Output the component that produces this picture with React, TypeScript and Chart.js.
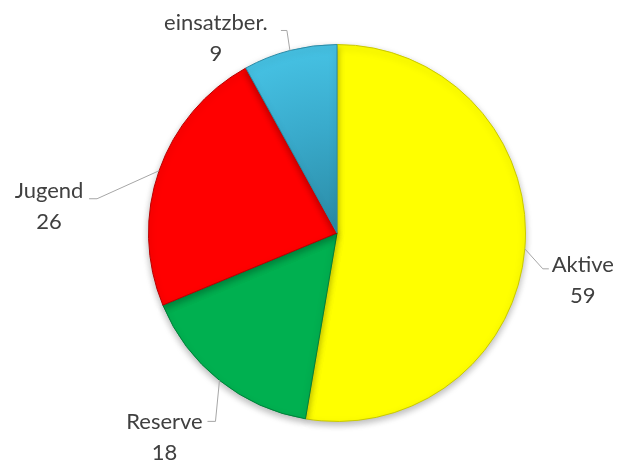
import React, { useEffect, useRef } from "react";
import { Chart, registerables } from "chart.js";

Chart.register(...registerables);

const categories = ["Aktive", "Reserve", "Jugend", "einsatzber."];
const values = [59, 18, 26, 9];

const sliceColors = ["#FFFF00", "#00B050", "#FF0000", "#41BCDF"];
const borderColors = ["#C9C900", "#00803A", "#B80000", "#2C8BA6"];

// label placement relative to the slice's outer mid-point (style only)
const labelLayout = [
  { tx: 58, ty: 23, ex: 18, ey: 20, h: 6 },
  { tx: -55, ty: 49, ex: -4, ey: 41, h: -8 },
  { tx: -110, ty: 27, ex: -62, ey: 28, h: -8 },
  { tx: -74, ty: -20, ex: -3, ey: -20, h: -6 },
];

const labelPlugin = {
  id: "outLabels",
  beforeDatasetsDraw(chart: any) {
    const ctx = chart.ctx;
    ctx.save();
    ctx.shadowColor = "rgba(0,0,0,0.28)";
    ctx.shadowBlur = 7;
    ctx.shadowOffsetY = 3;
  },
  afterDatasetsDraw(chart: any) {
    chart.ctx.restore();
  },
  afterDraw(chart: any) {
    const ctx = chart.ctx;
    const meta = chart.getDatasetMeta(0);
    ctx.save();
    meta.data.forEach((arc: any, i: number) => {
      const p = arc.getProps(["x", "y", "startAngle", "endAngle", "outerRadius"], true);
      const mid = (p.startAngle + p.endAngle) / 2;
      const ax = p.x + Math.cos(mid) * p.outerRadius;
      const ay = p.y + Math.sin(mid) * p.outerRadius;
      const L = labelLayout[i];
      ctx.strokeStyle = "#A6A6A6";
      ctx.lineWidth = 1;
      ctx.beginPath();
      ctx.moveTo(ax, ay);
      ctx.lineTo(ax + L.ex, ay + L.ey);
      ctx.lineTo(ax + L.ex + L.h, ay + L.ey);
      ctx.stroke();
      ctx.fillStyle = "#404040";
      ctx.font = "22px Lato";
      ctx.textAlign = "center";
      ctx.textBaseline = "alphabetic";
      ctx.fillText(categories[i], ax + L.tx, ay + L.ty);
      ctx.fillText(String(values[i]), ax + L.tx, ay + L.ty + 31);
    });
    ctx.restore();
  },
};

export default function App() {
  const ref = useRef<HTMLCanvasElement>(null);
  useEffect(() => {
    if (!ref.current) return;
    const chart = new Chart(ref.current, {
      type: "pie",
      data: {
        labels: categories,
        datasets: [
          {
            data: values,
            backgroundColor: (c: any) => {
              const i = c.dataIndex;
              const ch = c.chart;
              const area = ch.chartArea;
              if (!area || i !== 3) return sliceColors[i];
              const cx = (area.left + area.right) / 2;
              const cy = (area.top + area.bottom) / 2;
              const r = Math.min(area.right - area.left, area.bottom - area.top) / 2;
              const g = ch.ctx.createRadialGradient(cx, cy, 0, cx, cy, r);
              g.addColorStop(0, "#2A8AA4");
              g.addColorStop(0.55, "#39AACB");
              g.addColorStop(1, "#46C2E4");
              return g;
            },
            borderColor: borderColors,
            borderWidth: 1,
          },
        ],
      },
      options: {
        responsive: false,
        animation: false,
        layout: { padding: { left: 148, right: 100, top: 44, bottom: 39 } },
        plugins: {
          legend: { display: false },
          tooltip: { enabled: false },
          title: { display: false },
        },
      },
      plugins: [labelPlugin],
    });
    return () => chart.destroy();
  }, []);
  return (
    <div style={{ position: "fixed", left: 0, top: 0, width: 626, height: 461, background: "#fff" }}>
      <canvas ref={ref} width={626} height={461} />
    </div>
  );
}
